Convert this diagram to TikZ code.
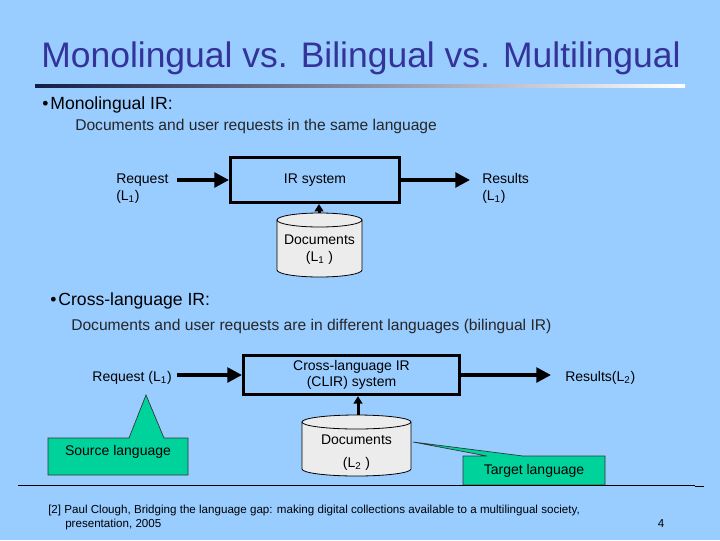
\documentclass[tikz,border=0pt]{standalone}
\usepackage{fontspec}
\setmainfont{Liberation Sans}
\usetikzlibrary{arrows.meta}
\definecolor{bg}{RGB}{153,204,255}
\definecolor{titleblue}{RGB}{51,51,153}
\definecolor{callgreen}{RGB}{0,210,155}
\definecolor{cylgray}{RGB}{236,236,236}
\definecolor{navy}{RGB}{20,28,70}
\begin{document}
\begin{tikzpicture}[x=0.75pt,y=-0.75pt,
  lbl/.style={inner sep=0pt, font=\fontsize{10.5pt}{12.75pt}\selectfont},
  sysbox/.style={draw, line width=2.25pt, inner sep=0pt, align=center, font=\fontsize{10.5pt}{11.5pt}\selectfont},
  bigarrow/.style={line width=2.6pt, -{Triangle[length=11pt,width=11pt]}},
  uparrow/.style={line width=2.25pt, -{Triangle[length=5.5pt,width=6.5pt]}},
  cyl/.style={draw=black, line width=0.6pt, fill=cylgray},
  callout/.style={draw=black!80, line width=0.5pt, fill=callgreen},
  titlestyle/.style={inner sep=0pt, text=titleblue, font=\fontsize{26.6pt}{30pt}\selectfont},
  heading/.style={inner sep=0pt, font=\fontsize{13.2pt}{15pt}\selectfont},
  body/.style={inner sep=0pt, text=black!85, font=\fontsize{11.7pt}{14pt}\selectfont},
  foot/.style={inner sep=0pt, align=left, font=\fontsize{8.7pt}{10.5pt}\selectfont}]
\useasboundingbox (0,0) rectangle (720,540);
\fill[bg] (0,0) rectangle (720,540);

% title
\node[titlestyle, anchor=base] (title) at (361,67) {Monolingual vs. Bilingual vs. Multilingual};
\shade[left color=navy, right color=white] (35,84.5) rectangle (685,87.5);

% section 1
\node[heading, anchor=base west] (h1) at (42,109) {\textbullet\hspace{1.5pt}Monolingual IR:};
\node[body, anchor=base west] (s1) at (75,130) {Documents and user requests in the same language};

\node[sysbox, minimum width=126.75pt, minimum height=33.75pt] (ir) at (315,180) {IR system};
\node[lbl, align=left, anchor=base west] (req1) at (116,200) {Request\\(L\textsubscript{1})};
\node[lbl, align=left, anchor=base west] (res1) at (482,200) {Results\\(L\textsubscript{1})};
\coordinate (a1) at (177,180);
\coordinate (r1) at (470,180);
\draw[bigarrow] (a1) -- (ir.west);
\draw[bigarrow] (ir.east) -- (r1);

\draw[cyl] (277,220) -- (277,270) arc[start angle=180,end angle=360,x radius=31.875pt,y radius=5.25pt]
  -- (362,220) arc[start angle=0,end angle=180,x radius=31.875pt,y radius=5.25pt] -- cycle;
\draw[cyl, fill=none] (277,220) arc[start angle=180,end angle=360,x radius=31.875pt,y radius=5.25pt];
\node[lbl, align=center, anchor=base] (doc1) at (319.5,261) {Documents\\(L\textsubscript{1} )};
\coordinate (c1top) at (319,213);
\draw[uparrow] (c1top) -- (c1top |- ir.south);

% section 2
\node[heading, anchor=base west] (h2) at (50,305) {\textbullet\hspace{1.5pt}Cross-language IR:};
\node[body, anchor=base west] (s2) at (71,330) {Documents and user requests are in different languages (bilingual IR)};

\node[sysbox, minimum width=162pt, minimum height=29.5pt] (clir) at (351.5,375) {Cross-language IR\\(CLIR) system};
\node[lbl, anchor=base east] (req2) at (172,381) {Request (L\textsubscript{1})};
\node[lbl, anchor=base west] (res2) at (565,381) {Results(L\textsubscript{2})};
\coordinate (a2) at (177,375);
\coordinate (r2) at (551,375);
\draw[bigarrow] (a2) -- (clir.west);
\draw[bigarrow] (clir.east) -- (r2);

\draw[cyl] (302,422) -- (302,469) arc[start angle=180,end angle=360,x radius=40.875pt,y radius=5.25pt]
  -- (411,422) arc[start angle=0,end angle=180,x radius=40.875pt,y radius=5.25pt] -- cycle;
\draw[cyl, fill=none] (302,422) arc[start angle=180,end angle=360,x radius=40.875pt,y radius=5.25pt];
\node[lbl, align=center, anchor=base] (doc2) at (356.5,467) {Documents\\[4pt](L\textsubscript{2} )};
\coordinate (c2top) at (358,415);
\draw[uparrow] (c2top) -- (c2top |- clir.south);

% callouts
\draw[callout] (48,438) -- (129,438) -- (146,395) -- (164,438) -- (188,438) -- (188,475) -- (48,475) -- cycle;
\node[lbl, anchor=base] (src) at (118,455) {Source language};
\draw[callout] (463,456) -- (487,456) -- (413,442) -- (523,456) -- (605,456) -- (605,485) -- (463,485) -- cycle;
\node[lbl, anchor=base] (tgt) at (534,474) {Target language};

% footer
\draw[line width=0.75pt] (18,485) -- (695,485);
\draw[line width=0.75pt] (695,486.5) -- (704,486.5);
\node[foot, anchor=base west] (ref) at (48,527) {[2] Paul Clough, Bridging the language gap: making digital collections available to a multilingual society,\\\hspace*{12.75pt}presentation, 2005};
\node[foot, anchor=base] (pg) at (661,527) {4};
\end{tikzpicture}
\end{document}
